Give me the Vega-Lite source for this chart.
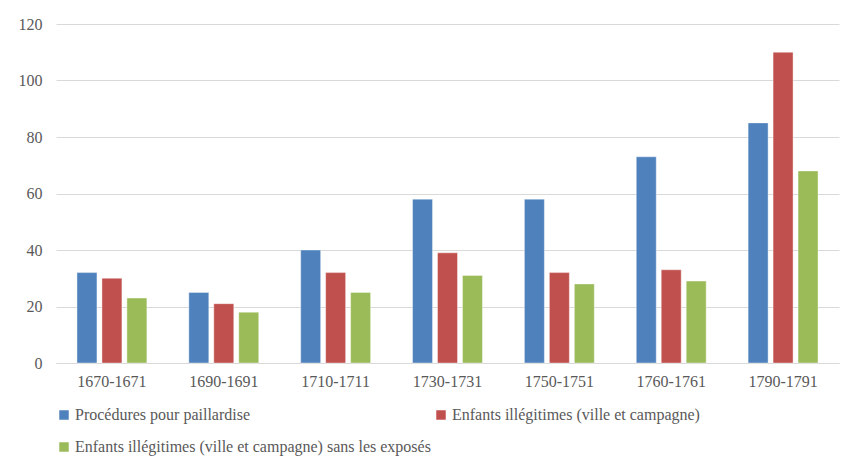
{
  "$schema": "https://vega.github.io/schema/vega-lite/v6.json",
  "width": 783,
  "height": 339,
  "autosize": {"type": "none"},
  "padding": {"left": 56, "top": 24, "right": 17, "bottom": 106},
  "background": "white",
  "config": {
    "font": "Liberation Serif, Times New Roman, serif",
    "view": {"stroke": null},
    "axis": {"labelFont": "Liberation Serif, Times New Roman, serif", "labelFontSize": 16, "labelColor": "#595959"},
    "legend": {"labelFont": "Liberation Serif, Times New Roman, serif", "labelFontSize": 16, "labelColor": "#595959"}
  },
  "data": {
    "values": [
      {"periode": "1670-1671", "serie": "Procédures pour paillardise", "valeur": 32},
      {"periode": "1670-1671", "serie": "Enfants illégitimes (ville et campagne)", "valeur": 30},
      {"periode": "1670-1671", "serie": "Enfants illégitimes (ville et campagne) sans les exposés", "valeur": 23},
      {"periode": "1690-1691", "serie": "Procédures pour paillardise", "valeur": 25},
      {"periode": "1690-1691", "serie": "Enfants illégitimes (ville et campagne)", "valeur": 21},
      {"periode": "1690-1691", "serie": "Enfants illégitimes (ville et campagne) sans les exposés", "valeur": 18},
      {"periode": "1710-1711", "serie": "Procédures pour paillardise", "valeur": 40},
      {"periode": "1710-1711", "serie": "Enfants illégitimes (ville et campagne)", "valeur": 32},
      {"periode": "1710-1711", "serie": "Enfants illégitimes (ville et campagne) sans les exposés", "valeur": 25},
      {"periode": "1730-1731", "serie": "Procédures pour paillardise", "valeur": 58},
      {"periode": "1730-1731", "serie": "Enfants illégitimes (ville et campagne)", "valeur": 39},
      {"periode": "1730-1731", "serie": "Enfants illégitimes (ville et campagne) sans les exposés", "valeur": 31},
      {"periode": "1750-1751", "serie": "Procédures pour paillardise", "valeur": 58},
      {"periode": "1750-1751", "serie": "Enfants illégitimes (ville et campagne)", "valeur": 32},
      {"periode": "1750-1751", "serie": "Enfants illégitimes (ville et campagne) sans les exposés", "valeur": 28},
      {"periode": "1760-1761", "serie": "Procédures pour paillardise", "valeur": 73},
      {"periode": "1760-1761", "serie": "Enfants illégitimes (ville et campagne)", "valeur": 33},
      {"periode": "1760-1761", "serie": "Enfants illégitimes (ville et campagne) sans les exposés", "valeur": 29},
      {"periode": "1790-1791", "serie": "Procédures pour paillardise", "valeur": 85},
      {"periode": "1790-1791", "serie": "Enfants illégitimes (ville et campagne)", "valeur": 110},
      {"periode": "1790-1791", "serie": "Enfants illégitimes (ville et campagne) sans les exposés", "valeur": 68}
    ]
  },
  "mark": {"type": "bar", "strokeWidth": 1, "strokeOpacity": 0.4, "stroke": "white"},
  "encoding": {
    "x": {
      "field": "periode",
      "type": "nominal",
      "sort": null,
      "title": null,
      "scale": {"paddingInner": 0.375, "paddingOuter": 0.1875},
      "axis": {"labelAngle": 0, "ticks": false, "domainColor": "#d9d9d9", "domainWidth": 1, "labelPadding": 10, "labelFont": "Liberation Serif, Times New Roman, serif", "labelFontSize": 16}
    },
    "xOffset": {
      "field": "serie",
      "type": "nominal",
      "sort": null,
      "scale": {"paddingInner": 0.2, "paddingOuter": 0}
    },
    "y": {
      "field": "valeur",
      "type": "quantitative",
      "title": null,
      "scale": {"domain": [0, 120]},
      "axis": {"values": [0, 20, 40, 60, 80, 100, 120], "domain": false, "ticks": false, "gridColor": "#d9d9d9", "gridWidth": 1, "labelPadding": 14, "labelFont": "Liberation Serif, Times New Roman, serif", "labelFontSize": 16}
    },
    "color": {
      "field": "serie",
      "type": "nominal",
      "sort": null,
      "title": null,
      "scale": {
        "domain": ["Procédures pour paillardise", "Enfants illégitimes (ville et campagne)", "Enfants illégitimes (ville et campagne) sans les exposés"],
        "range": ["#4F81BD", "#C0504D", "#9BBB59"]
      },
      "legend": {
        "orient": "none",
        "legendX": 0,
        "legendY": 383,
        "direction": "horizontal",
        "columns": 2,
        "columnPadding": 2,
        "rowPadding": 16,
        "symbolType": "square",
        "symbolSize": 90,
        "symbolStrokeWidth": 0,
        "labelOffset": 3,
        "labelLimit": 500,
        "labelFont": "Liberation Serif, Times New Roman, serif",
        "labelFontSize": 16,
        "labelColor": "#595959"
      }
    }
  }
}
